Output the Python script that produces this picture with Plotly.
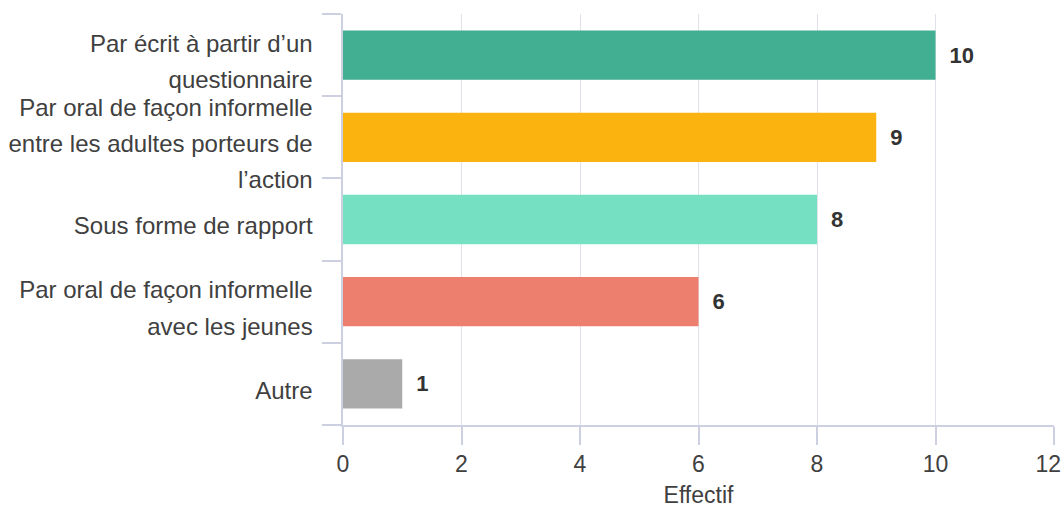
import plotly.graph_objects as go

categories = [
    "Par écrit à partir d’un<br>questionnaire",
    "Par oral de façon informelle<br>entre les adultes porteurs de<br>l’action",
    "Sous forme de rapport",
    "Par oral de façon informelle<br>avec les jeunes",
    "Autre",
]
values = [10, 9, 8, 6, 1]
colors = ["#42ae92", "#fbb40f", "#75e0c2", "#ec7f6d", "#aaaaaa"]
x_title = "Effectif"
x_tickvals = [0, 2, 4, 6, 8, 10, 12]
x_ticktext = ["0", "2", "4", "6", "8", "10", "12\u2002"]

LABEL_PX = 24
tick_labels = ["<br>".join(f'<span style="font-size:{LABEL_PX}px">{ln}</span>' for ln in c.split("<br>")) for c in categories]

FONT = "Liberation Sans, Arial, sans-serif"

fig = go.Figure(
    go.Bar(
        x=values,
        y=categories,
        orientation="h",
        marker=dict(color=colors, line=dict(width=0)),
        text=values,
        texttemplate="\u2002%{x}",
        textposition="outside",
        textfont=dict(family=FONT, size=22, color="#333333", weight="bold"),
        cliponaxis=False,
        hoverinfo="skip",
    )
)

fig.update_layout(
    width=1061,
    height=508,
    margin=dict(l=343, r=7, t=14, b=83),
    paper_bgcolor="white",
    plot_bgcolor="white",
    bargap=0.4,
    showlegend=False,
    font=dict(family=FONT, color="#404040"),
)

fig.update_xaxes(
    range=[0, 12],
    tickvals=x_tickvals,
    ticktext=x_ticktext,
    automargin=False,
    ticklabeloverflow="allow",
    showgrid=True,
    gridcolor="#e0e2ea",
    gridwidth=1,
    zeroline=False,
    showline=True,
    linecolor="#ccd0e0",
    linewidth=1.5,
    ticks="outside",
    ticklen=18,
    tickcolor="#ccd0e0",
    tickwidth=1.5,
    tickfont=dict(size=23, color="#404040"),
    title=dict(text=x_title, font=dict(size=23, color="#404040"), standoff=12),
)

fig.update_yaxes(
    type="category",
    categoryorder="array",
    categoryarray=categories,
    tickvals=categories,
    ticktext=tick_labels,
    autorange="reversed",
    automargin=False,
    showgrid=False,
    zeroline=False,
    showline=True,
    linecolor="#ccd0e0",
    linewidth=1.5,
    ticks="outside",
    tickson="boundaries",
    ticklen=19,
    tickcolor="#ccd0e0",
    tickwidth=1.5,
    ticklabelstandoff=23,
    ticklabelshift=-5,
    tickfont=dict(size=28, color="#404040"),
)

fig.write_html(
    "out.html",
    config={"displayModeBar": False},
    post_script="document.body.style.margin='0';document.body.style.overflow='hidden';",
)
